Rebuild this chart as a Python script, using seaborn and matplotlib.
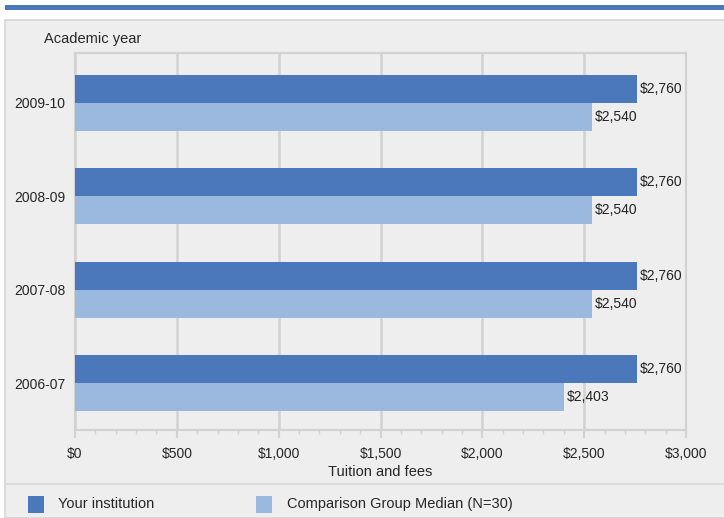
import matplotlib
matplotlib.use("Agg")
import matplotlib.pyplot as plt
from matplotlib.patches import Rectangle
from matplotlib.ticker import MultipleLocator, FuncFormatter
import seaborn as sns
import pandas as pd

# data
years = ["2009-10", "2008-09", "2007-08", "2006-07"]
your_inst = [2760, 2760, 2760, 2760]
comparison = [2540, 2540, 2540, 2403]
series = ["Your institution", "Comparison Group Median (N=30)"]

dark = "#4a78bb"
light = "#9bb9de"
panel = "#eeeeee"
grid = "#d2d2d2"

sns.set_style("white")
plt.rcParams["font.family"] = ["Liberation Sans", "DejaVu Sans"]

df = pd.DataFrame({
    "year": years * 2,
    "value": your_inst + comparison,
    "series": [series[0]] * 4 + [series[1]] * 4,
})

fig = plt.figure(figsize=(7.24, 5.18), dpi=100)
fig.patch.set_facecolor("white")

# background panel + top band
fig.patches.append(Rectangle((5 / 724, 0), 1, 1 - 20 / 518, transform=fig.transFigure,
                             facecolor=panel, edgecolor="#d6d6d6", lw=1.2, zorder=-10))
fig.patches.append(Rectangle((5 / 724, 1 - 10 / 518), 1, 5 / 518, transform=fig.transFigure,
                             facecolor=dark, edgecolor="none", zorder=-10))
fig.lines.append(plt.Line2D([5 / 724, 1], [1 - 484 / 518] * 2, transform=fig.transFigure,
                            color="#dcdcdc", lw=1.5, zorder=-5))

ax = fig.add_axes([75 / 724, 1 - 430 / 518, (686 - 75) / 724, (430 - 53) / 518], zorder=1)
ax.set_facecolor(panel)

sns.barplot(data=df, y="year", x="value", hue="series", order=years,
            hue_order=series, palette=[dark, light], width=0.6,
            orient="h", saturation=1, legend=False, ax=ax, zorder=3,
            linewidth=0, edgecolor="none")

for cont in ax.containers:
    ax.bar_label(cont, labels=[f"${v:,.0f}" for v in cont.datavalues],
                 padding=2, fontsize=10, color="#222222")

ax.set_xlim(0, 3000)
ax.set_ylim(3.5, -0.53)
ax.xaxis.set_major_locator(MultipleLocator(500))
ax.xaxis.set_minor_locator(MultipleLocator(100))
ax.xaxis.set_major_formatter(FuncFormatter(lambda v, p: f"${v:,.0f}"))
ax.grid(axis="x", color=grid, lw=1.8, zorder=0)
ax.set_axisbelow(True)
for s in ax.spines.values():
    s.set_color(grid)
    s.set_linewidth(1.5)

ax.tick_params(axis="x", which="major", length=6, width=1.5, color=grid,
               labelsize=10, pad=6, bottom=True)
ax.tick_params(axis="x", which="minor", length=3, width=1, color=grid, bottom=True)
ax.tick_params(axis="y", length=0, labelsize=10, pad=7)

ax.set_ylabel("")
ax.set_xlabel("Tuition and fees", fontsize=10.5, labelpad=3)
fig.text(44 / 724, 1 - 39 / 518, "Academic year", fontsize=10.5, va="center", ha="left")

# legend
for x0, col, lab, tx in [(28, dark, series[0], 58), (256, light, series[1], 287)]:
    fig.patches.append(Rectangle((x0 / 724, 1 - 513 / 518), 16 / 724, 17 / 518,
                                 transform=fig.transFigure, facecolor=col, edgecolor="none"))
    fig.text(tx / 724, 1 - 504 / 518, lab, fontsize=10.5, va="center", ha="left")

plt.savefig("out.png", dpi=100, facecolor=fig.get_facecolor())
